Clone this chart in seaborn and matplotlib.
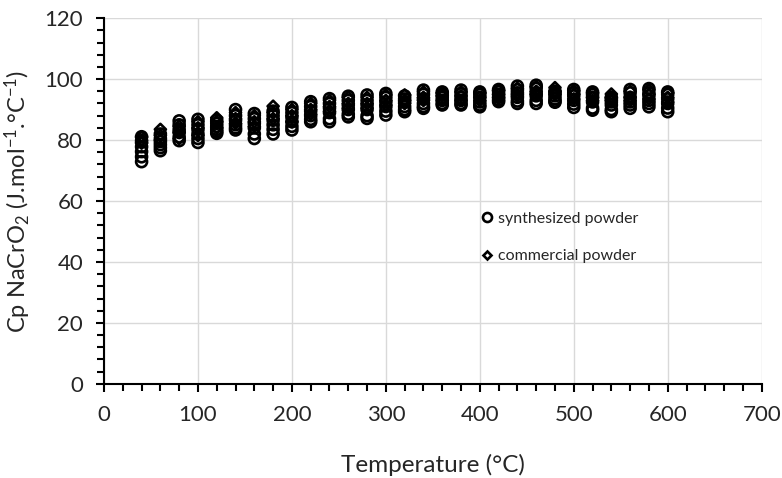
import numpy as np
import pandas as pd
import matplotlib
matplotlib.use("Agg")
import matplotlib.pyplot as plt
import seaborn as sns
from matplotlib.lines import Line2D
from matplotlib.ticker import MultipleLocator

temperature = [40, 60, 80, 100, 120, 140, 160, 180, 200, 220, 240, 260, 280, 300,
               320, 340, 360, 380, 400, 420, 440, 460, 480, 500, 520, 540, 560, 580, 600]

syn_1 = [81.1, 82.0, 86.3, 86.8, 86.5, 90.0, 88.7, 89.5, 90.7, 92.6, 93.6, 94.4, 94.8, 95.3, 94.5,
         96.4, 95.8, 96.4, 95.8, 96.6, 97.7, 98.0, 96.0, 96.6, 95.8, 94.0, 96.6, 96.9, 95.8]
syn_2 = [79.4, 80.5, 85.0, 85.0, 85.5, 88.0, 87.0, 88.0, 89.0, 91.0, 92.0, 93.0, 93.0, 94.0, 93.5,
         95.0, 95.0, 95.2, 95.0, 96.0, 96.5, 97.0, 95.5, 95.5, 95.0, 93.5, 95.5, 95.5, 95.0]
syn_3 = [77.8, 79.5, 83.5, 83.5, 84.5, 86.5, 85.5, 86.5, 87.5, 89.5, 90.5, 91.5, 91.5, 92.5, 92.5,
         93.5, 94.0, 94.0, 94.0, 95.0, 95.5, 95.5, 94.5, 94.5, 94.0, 92.5, 94.0, 94.5, 93.5]
syn_4 = [76.2, 78.5, 82.5, 82.0, 83.5, 85.0, 84.0, 85.0, 86.0, 88.0, 89.0, 90.0, 90.0, 91.0, 91.0,
         92.0, 93.0, 93.0, 92.5, 94.0, 94.0, 94.5, 93.5, 93.0, 92.5, 91.5, 92.5, 93.0, 92.0]
syn_5 = [74.5, 77.5, 81.0, 80.5, 82.8, 84.0, 82.0, 83.5, 84.5, 86.8, 87.0, 88.5, 88.0, 89.5, 90.0,
         91.0, 92.0, 92.0, 91.5, 93.2, 92.8, 93.0, 92.8, 91.8, 90.5, 90.0, 91.5, 92.0, 90.5]
syn_6 = [72.9, 76.5, 79.8, 79.2, 82.2, 83.3, 80.5, 82.0, 83.3, 86.0, 86.0, 87.6, 87.1, 88.2, 89.3,
         90.4, 91.5, 91.5, 90.9, 92.6, 92.0, 92.0, 92.4, 90.7, 89.8, 89.3, 90.4, 90.9, 89.3]

com_1 = [81.0, 83.5, 84.5, 86.0, 87.3, 89.0, 88.0, 91.1, 90.0, 92.0, 93.0, 94.0, 94.0, 94.8, 94.8,
         95.8, 95.5, 95.8, 95.5, 96.3, 97.0, 97.5, 97.2, 96.2, 95.5, 95.1, 96.0, 96.5, 95.5]
com_2 = [80.0, 81.5, 82.5, 84.0, 86.0, 87.0, 86.0, 89.0, 88.0, 90.0, 91.0, 92.0, 92.0, 93.0, 93.0,
         94.0, 94.5, 94.5, 94.0, 95.0, 95.0, 96.0, 96.0, 95.0, 94.0, 94.0, 94.0, 95.0, 94.0]
com_3 = [79.0, 80.0, 80.5, 81.5, 84.0, 85.5, 84.5, 87.0, 86.0, 88.5, 89.5, 90.5, 90.5, 91.5, 92.0,
         93.0, 93.0, 93.0, 93.0, 94.0, 94.5, 95.0, 95.0, 93.5, 93.0, 93.0, 93.0, 93.5, 92.5]

labels = ["synthesized powder", "commercial powder"]

rows = []
for run in [syn_1, syn_2, syn_3, syn_4, syn_5, syn_6]:
    for t, v in zip(temperature, run):
        rows.append((t, v, labels[0]))
for run in [com_1, com_2, com_3]:
    for t, v in zip(temperature, run):
        rows.append((t, v, labels[1]))
df = pd.DataFrame(rows, columns=["T", "Cp", "sample"])

sns.set_theme(style="white")
plt.rcParams['font.family'] = ['Lato', 'DejaVu Sans']
plt.rcParams['mathtext.default'] = 'regular'

fig = plt.figure(figsize=(7.82, 4.78), dpi=100)
ax = fig.add_axes([0.133, 0.197, 0.841, 0.765])

syn = df[df["sample"] == labels[0]]
com = df[df["sample"] == labels[1]]
sns.scatterplot(data=syn, x="T", y="Cp", marker="o", s=62, facecolors="none",
                edgecolor="black", linewidth=1.9, ax=ax, legend=False, zorder=3)
sns.scatterplot(data=com, x="T", y="Cp", marker="D", s=32, facecolors="none",
                edgecolor="black", linewidth=1.9, ax=ax, legend=False, zorder=3)

ax.set_xlim(0, 700)
ax.set_ylim(0, 120)
ax.xaxis.set_major_locator(MultipleLocator(100))
ax.xaxis.set_minor_locator(MultipleLocator(20))
ax.yaxis.set_major_locator(MultipleLocator(20))
ax.yaxis.set_minor_locator(MultipleLocator(4))
ax.grid(True, which="major", color="#d9d9d9", linewidth=1)
ax.set_axisbelow(True)
for s in ["top", "right"]:
    ax.spines[s].set_visible(False)
for s in ["left", "bottom"]:
    ax.spines[s].set_color("black")
    ax.spines[s].set_linewidth(1.5)
ax.tick_params(axis="both", which="major", direction="out", length=6, width=1.5,
               colors="black", labelsize=16, left=True, bottom=True, pad=9)
ax.tick_params(axis="both", which="minor", direction="out", length=5, width=1.5,
               colors="black", left=True, bottom=True)
for lab in ax.get_xticklabels() + ax.get_yticklabels():
    lab.set_color("#262626")

ax.set_xlabel("Temperature (°C)", fontsize=17.5, color="#262626", labelpad=21)
ax.set_ylabel("Cp NaCrO$_2$ (J.mol$^{-1}$.°C$^{-1}$)", fontsize=17, color="#262626", labelpad=8)

handles = [
    Line2D([], [], linestyle="none", marker="o", markersize=6.5, markerfacecolor="none",
           markeredgecolor="black", markeredgewidth=1.9),
    Line2D([], [], linestyle="none", marker="D", markersize=4.5, markerfacecolor="none",
           markeredgecolor="black", markeredgewidth=1.9),
]
ax.legend(handles, labels, loc="center left", bbox_to_anchor=(0.551, 0.40),
          frameon=False, fontsize=11.5, handlelength=0.8, handletextpad=0.3,
          labelspacing=1.45, labelcolor="#262626")

fig.savefig("out.png", dpi=100)
